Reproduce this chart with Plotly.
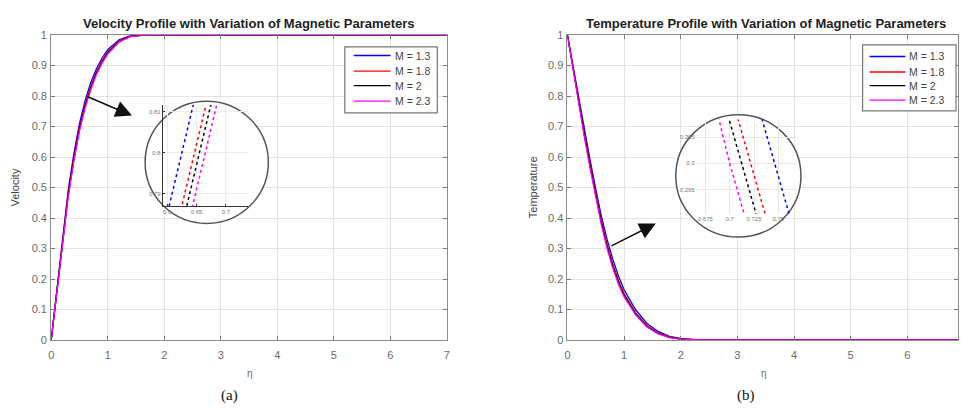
import plotly.graph_objects as go

W, H = 961, 413

# ---------------- data ----------------
M_labels = ["M = 1.3", "M = 1.8", "M = 2", "M = 2.3"]
colors = ["#0000ff", "#ff0000", "#000000", "#ff00ff"]

eta_v = [0, 0.1, 0.2, 0.3, 0.4, 0.5, 0.6, 0.7, 0.8, 0.9, 1.0, 1.2, 1.4, 1.6, 2.0, 7.0]
vel_M13 = [0, 0.170, 0.340, 0.490, 0.610, 0.710, 0.785, 0.845, 0.890, 0.925, 0.952, 0.985, 0.998, 1.0, 1.0, 1.0]
vel_M18 = [0, 0.166, 0.331, 0.479, 0.598, 0.697, 0.772, 0.832, 0.879, 0.916, 0.945, 0.981, 0.996, 1.0, 1.0, 1.0]
vel_M2 = [0, 0.164, 0.327, 0.474, 0.592, 0.692, 0.767, 0.827, 0.875, 0.912, 0.942, 0.979, 0.996, 0.999, 1.0, 1.0]
vel_M23 = [0, 0.161, 0.322, 0.467, 0.585, 0.685, 0.761, 0.821, 0.870, 0.908, 0.938, 0.977, 0.995, 0.999, 1.0, 1.0]

eta_t = [0, 0.1, 0.2, 0.3, 0.4, 0.5, 0.6, 0.7, 0.8, 0.9, 1.0, 1.2, 1.4, 1.6, 1.8, 2.0, 2.2, 2.4, 3.0, 7.0]
temp_M13 = [1, 0.895, 0.790, 0.690, 0.590, 0.495, 0.405, 0.330, 0.265, 0.210, 0.165, 0.100, 0.055, 0.028, 0.012, 0.005, 0.001, 0, 0, 0]
temp_M18 = [1, 0.890, 0.780, 0.677, 0.576, 0.480, 0.390, 0.314, 0.249, 0.196, 0.152, 0.090, 0.048, 0.023, 0.010, 0.004, 0.001, 0, 0, 0]
temp_M2 = [1, 0.888, 0.776, 0.672, 0.570, 0.474, 0.384, 0.308, 0.243, 0.190, 0.147, 0.087, 0.046, 0.022, 0.009, 0.003, 0.001, 0, 0, 0]
temp_M23 = [1, 0.885, 0.770, 0.664, 0.562, 0.466, 0.376, 0.300, 0.235, 0.183, 0.141, 0.083, 0.043, 0.020, 0.008, 0.003, 0.0005, 0, 0, 0]

vel_series = [vel_M13, vel_M18, vel_M2, vel_M23]
temp_series = [temp_M13, temp_M18, temp_M2, temp_M23]

x_ticks = [0, 1, 2, 3, 4, 5, 6, 7]


def px(p):
    return p / W


def py(p):
    return 1 - p / H


fig = go.Figure()

# main curves
for lab, col, v in zip(M_labels, colors, vel_series):
    fig.add_trace(go.Scatter(x=eta_v, y=v, mode="lines", name=lab,
                             line=dict(color=col, width=1.3),
                             xaxis="x", yaxis="y", showlegend=False))
for lab, col, t in zip(M_labels, colors, temp_series):
    fig.add_trace(go.Scatter(x=eta_t, y=t, mode="lines", name=lab,
                             line=dict(color=col, width=1.3),
                             xaxis="x2", yaxis="y2", showlegend=False))

# frame subplot (left circle)
fig.add_trace(go.Scatter(x=[], y=[], xaxis="x3", yaxis="y3", showlegend=False))
# inset data (left)
for col, v in zip(colors, vel_series):
    fig.add_trace(go.Scatter(x=eta_v, y=v, mode="lines", showlegend=False,
                             line=dict(color=col, width=1.5, dash="dot"),
                             xaxis="x4", yaxis="y4", hoverinfo="skip"))
# frame subplot (right circle)
fig.add_trace(go.Scatter(x=[], y=[], xaxis="x5", yaxis="y5", showlegend=False))
# inset data (right)
for col, t in zip(colors, temp_series):
    fig.add_trace(go.Scatter(x=eta_t, y=t, mode="lines", showlegend=False,
                             line=dict(color=col, width=1.5, dash="dot"),
                             xaxis="x6", yaxis="y6", hoverinfo="skip"))

tickfont = dict(family="Liberation Sans, Arial, sans-serif", size=11, color="#6a6a6a")
main_ax = dict(showline=True, linecolor="#8c8c8c", linewidth=1, mirror="ticks",
               ticks="inside", ticklen=4, tickcolor="#777777", showgrid=True,
               gridcolor="#e4e4e4", gridwidth=1, zeroline=False, tickfont=tickfont)

ytop, ybot = 30, 344


def inset_range(p_lo, p_hi, p_anchor, v_anchor, scale, reverse=False):
    # convert a pixel span into an axis range around an anchor value
    if not reverse:
        return [v_anchor - (p_anchor - p_lo) / scale, v_anchor + (p_hi - p_anchor) / scale]
    return [v_anchor - (p_hi - p_anchor) / scale, v_anchor + (p_anchor - p_lo) / scale]


# left inset geometry (pixels)
L_dx = (161, 247)
L_dy = (102, 206)
L_xr = inset_range(L_dx[0], L_dx[1], 180, 0.625, 590)
L_yr = inset_range(L_dy[0], L_dy[1], 151, 0.80, 4220, reverse=True)
# right inset geometry
R_dx = (697, 800)
R_dy = (117, 214)
R_xr = inset_range(R_dx[0], R_dx[1], 776.5, 0.7462, 980)
R_yr = inset_range(R_dy[0], R_dy[1], 162, 0.300, 5400, reverse=True)

small = dict(family="Liberation Sans, Arial, sans-serif", size=6, color="#777777")

fig.update_layout(
    width=W, height=H, margin=dict(l=0, r=0, t=0, b=0),
    paper_bgcolor="white", plot_bgcolor="rgba(0,0,0,0)", showlegend=False,
    xaxis=dict(main_ax, domain=[px(48.5), px(446.7)], range=[0, 7], tickvals=x_ticks, anchor="y",
               ticklabelstandoff=5),
    yaxis=dict(main_ax, domain=[py(ybot), py(ytop)], range=[0, 1], dtick=0.1, anchor="x",
               ticklabelstandoff=1),
    xaxis2=dict(main_ax, domain=[px(568), 1.0], range=[0, (961 - 568) / 57.0], tickvals=x_ticks, anchor="y2",
                ticklabelstandoff=5),
    yaxis2=dict(main_ax, domain=[py(ybot), py(ytop)], range=[0, 1], dtick=0.1, anchor="x2",
                ticklabelstandoff=1),
    xaxis3=dict(domain=[px(139), px(271)], range=[139, 271], visible=False, anchor="y3", fixedrange=True),
    yaxis3=dict(domain=[py(229), py(95)], range=[229, 95], visible=False, anchor="x3", fixedrange=True),
    xaxis4=dict(domain=[px(L_dx[0]), px(L_dx[1])], range=L_xr, anchor="y4", showline=True,
                linecolor="#333333", linewidth=1.2, mirror=False, ticks="inside", ticklen=2,
                tickcolor="#333", dtick=0.05, tickfont=small, showgrid=True, gridcolor="#ececec",
                zeroline=False),
    yaxis4=dict(domain=[py(L_dy[1]), py(L_dy[0])], range=L_yr, anchor="x4", showline=True,
                linecolor="#333333", linewidth=1.2, mirror=False, ticks="inside", ticklen=2,
                tickcolor="#333", dtick=0.01, tickfont=small, showgrid=True, gridcolor="#ececec",
                zeroline=False),
    xaxis5=dict(domain=[px(674), px(806)], range=[674, 806], visible=False, anchor="y5", fixedrange=True),
    yaxis5=dict(domain=[py(241), py(109)], range=[241, 109], visible=False, anchor="x5", fixedrange=True),
    xaxis6=dict(domain=[px(R_dx[0]), px(R_dx[1])], range=R_xr, anchor="y6", showline=False,
                ticks="", dtick=0.025, tickfont=small, showgrid=True, gridcolor="#e6e6e6",
                zeroline=False),
    yaxis6=dict(domain=[py(R_dy[1]), py(R_dy[0])], range=R_yr, anchor="x6", showline=False,
                ticks="", dtick=0.005, tickfont=small, showgrid=True, gridcolor="#e6e6e6",
                zeroline=False),
)

# circles
fig.add_shape(type="circle", xref="x3", yref="y3", x0=143, x1=267, y0=98, y1=224,
              line=dict(color="#555555", width=1.5), fillcolor="white", layer="below")
fig.add_shape(type="circle", xref="x5", yref="y5", x0=677, x1=803, y0=112, y1=238,
              line=dict(color="#555555", width=1.5), fillcolor="white", layer="below")

# legends (box, key lines, labels)
legend_boxes = [
    dict(x0=344, x1=437, y0=42, y1=110, lx=(353, 390), tx=392, rows=[51, 67, 82, 98]),
    dict(x0=865, x1=959, y0=40, y1=108, lx=(872, 908), tx=910, rows=[52, 68, 82, 97]),
]
leg_font = dict(family="Liberation Sans, Arial, sans-serif", size=10.5, color="#444444")
for lb in legend_boxes:
    fig.add_shape(type="rect", xref="paper", yref="paper", x0=px(lb["x0"]), x1=px(lb["x1"]),
                  y0=py(lb["y1"]), y1=py(lb["y0"]), line=dict(color="#777777", width=1.2),
                  fillcolor="white", layer="above")
    for lab, col, ry in zip(M_labels, colors, lb["rows"]):
        fig.add_shape(type="line", xref="paper", yref="paper", x0=px(lb["lx"][0]), x1=px(lb["lx"][1]),
                      y0=py(ry), y1=py(ry), line=dict(color=col, width=1.3), layer="above")
        fig.add_annotation(xref="paper", yref="paper", x=px(lb["tx"]), y=py(ry), text=lab,
                           showarrow=False, xanchor="left", yanchor="middle", font=leg_font)

ann_font = dict(family="Liberation Sans, Arial, sans-serif", color="#222222")
annotations = [
    dict(text="<b>Velocity Profile with Variation of Magnetic Parameters</b>", x=px(247.5), y=py(18),
         font=dict(ann_font, size=13)),
    dict(text="<b>Temperature Profile with Variation of Magnetic Parameters</b>", x=px(768), y=py(18),
         font=dict(ann_font, size=13)),
    dict(text="Velocity", x=px(12), y=py(187), textangle=-90, font=dict(ann_font, size=11, color="#444444")),
    dict(text="Temperature", x=px(533), y=py(187), textangle=-90, font=dict(ann_font, size=11, color="#444444")),
    dict(text="η", x=px(249), y=py(379), font=dict(ann_font, size=10, color="#666666")),
    dict(text="η", x=px(766), y=py(379), font=dict(ann_font, size=10, color="#666666")),
    dict(text="(a)", x=px(228), y=py(401), font=dict(family="Liberation Serif, Times New Roman, serif", size=15, color="#111111")),
    dict(text="(b)", x=px(748), y=py(401), font=dict(family="Liberation Serif, Times New Roman, serif", size=15, color="#111111")),
]
for a in annotations:
    fig.add_annotation(xref="paper", yref="paper", showarrow=False, xanchor="center", yanchor="middle", **a)

# arrows
fig.add_annotation(x=1.43, y=0.736, ax=0.62, ay=0.80, xref="x", yref="y", axref="x", ayref="y",
                   text="", showarrow=True, arrowhead=2, arrowsize=2.2, arrowwidth=1.5, arrowcolor="#111111")
fig.add_annotation(x=1.56, y=0.382, ax=0.75, ay=0.306, xref="x2", yref="y2", axref="x2", ayref="y2",
                   text="", showarrow=True, arrowhead=2, arrowsize=2.2, arrowwidth=1.5, arrowcolor="#111111")

fig.write_html("out.html")
